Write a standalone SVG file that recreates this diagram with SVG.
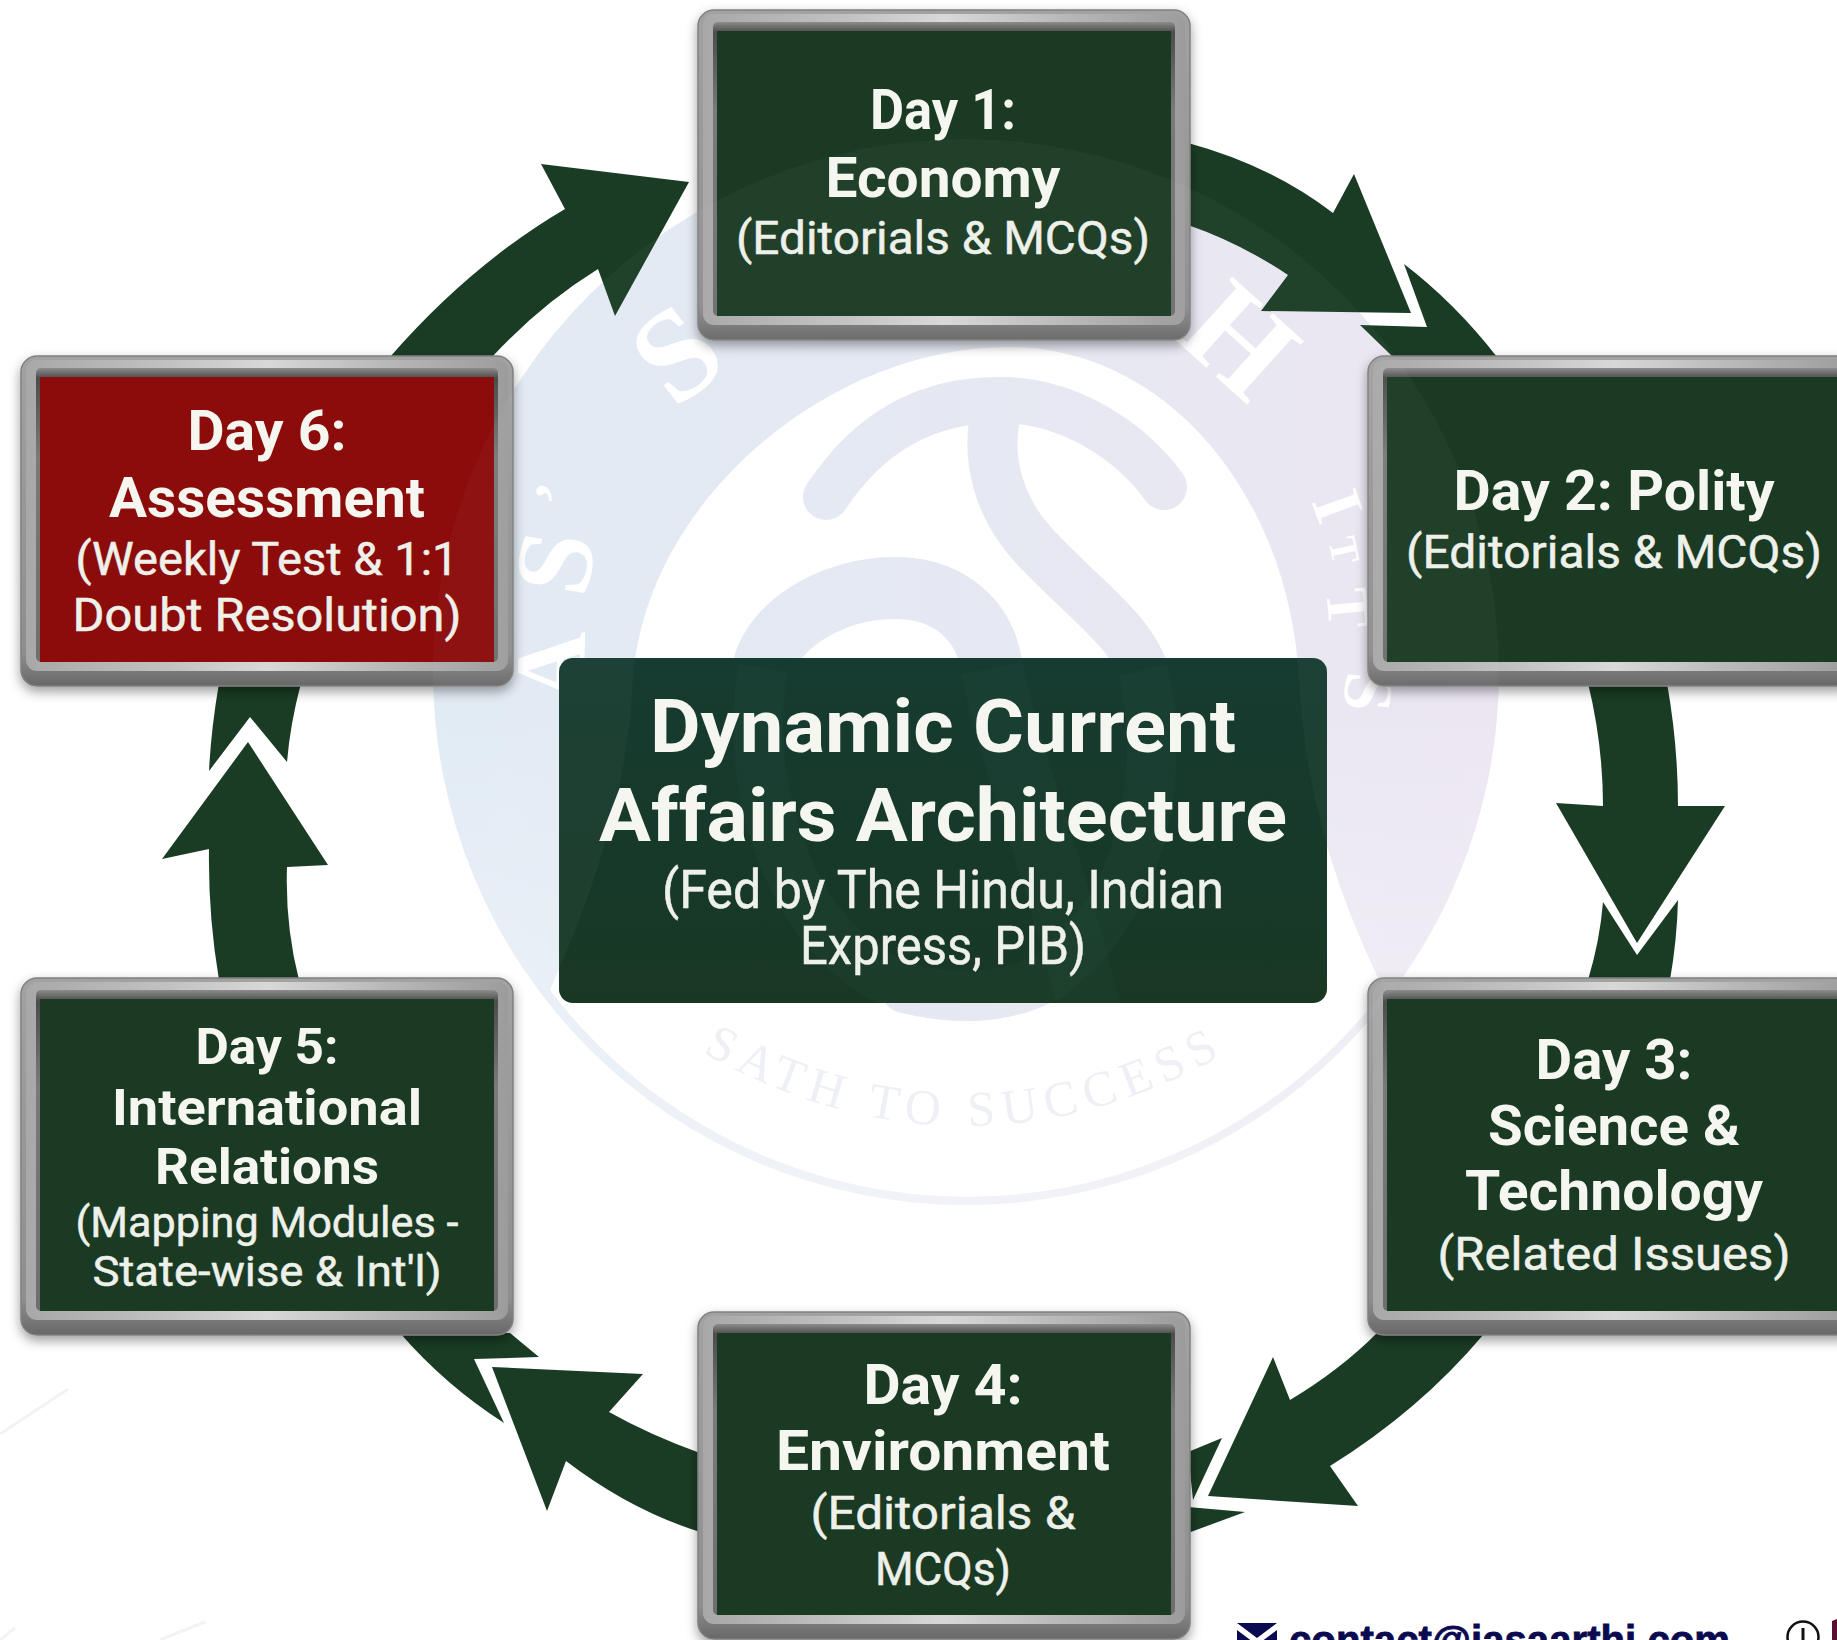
<svg xmlns="http://www.w3.org/2000/svg" width="1837" height="1640" viewBox="0 0 1837 1640">
<defs>
<linearGradient id="tint" gradientUnits="userSpaceOnUse" x1="431" y1="0" x2="1501" y2="0"><stop offset="0" stop-color="#e1ebf4"/><stop offset="0.55" stop-color="#e6e8f2"/><stop offset="1" stop-color="#ece6f2"/></linearGradient>
<linearGradient id="fade" gradientUnits="userSpaceOnUse" x1="0" y1="700" x2="0" y2="1205"><stop offset="0" stop-color="#fff" stop-opacity="0"/><stop offset="1" stop-color="#fff" stop-opacity="0.45"/></linearGradient>
<linearGradient id="body" x1="0" y1="0" x2="0" y2="1"><stop offset="0" stop-color="#a2a2a2"/><stop offset="0.9" stop-color="#8e8e8e"/><stop offset="1" stop-color="#686868"/></linearGradient>
<linearGradient id="metal" x1="0" y1="0" x2="1" y2="0"><stop offset="0" stop-color="#a8a8a8"/><stop offset="0.3" stop-color="#c2c2c2"/><stop offset="0.5" stop-color="#d8d8d8"/><stop offset="0.75" stop-color="#b8b8b8"/><stop offset="1" stop-color="#9c9c9c"/></linearGradient>
<linearGradient id="lip" x1="0" y1="0" x2="0" y2="1"><stop offset="0" stop-color="#8c8c8c"/><stop offset="0.035" stop-color="#4c4c4c"/><stop offset="0.3" stop-color="#7a7a7a"/><stop offset="1" stop-color="#6e6e6e"/></linearGradient>
<linearGradient id="hub" x1="0" y1="0" x2="0" y2="1"><stop offset="0" stop-color="#163b30"/><stop offset="0.55" stop-color="#17392a"/><stop offset="1" stop-color="#193824"/></linearGradient>
<filter id="shadow" x="-8%" y="-8%" width="116%" height="120%"><feDropShadow dx="0" dy="5" stdDeviation="6" flood-color="#000" flood-opacity="0.38"/></filter>
<clipPath id="hubclip"><rect x="559" y="658" width="768" height="345" rx="14"/></clipPath>
</defs>
<style>
.mark{fill:url(#tint)}
.stk{fill:none;stroke:url(#tint);stroke-linecap:round}
.wm{font-family:"Liberation Serif",serif;font-weight:700;fill:#fff;font-size:130px;text-anchor:middle}
.conn{fill:#1a3c24}
.body{stroke:#808080;stroke-width:1.5;fill:url(#body)}
.bright{fill:url(#metal)}
.lip{fill:url(#lip)}
.panel{fill:#1a3a23}
.red{fill:#8c0b0b}
.h{font-family:Roboto,"Liberation Sans",sans-serif;font-weight:700;font-size:55px;fill:#f6f6f1;text-anchor:middle}
.s{font-family:Roboto,"Liberation Sans",sans-serif;font-weight:400;font-size:46px;fill:#eef0ea;stroke:#eef0ea;stroke-width:0.5;text-anchor:middle}
.ct{font-size:74px}
.cs{font-size:54px}
.ghost{fill:none;stroke:#5aa8a0;opacity:0.04}
</style>
<rect width="1837" height="1640" fill="#fff"/>
<g id="watermark">
<circle class="mark" cx="966" cy="672" r="533"/>
<circle cx="966" cy="672" r="534" fill="url(#fade)"/>
<path fill="#fff" d="M1008,347 C830,347 645,500 633,680 C627,800 590,900 550,990 A524,524 0 0 0 1384,990 C1340,900 1305,800 1299,680 C1290,500 1170,347 1008,347Z"/>
<path class="stk" stroke-width="46" d="M826,497 C870,430 930,398 1005,400 C1070,402 1130,440 1164,487"/>
<path class="stk" stroke-width="50" stroke-linecap="butt" d="M996,412 C985,460 1000,510 1035,547 C1080,595 1130,630 1143,670 C1165,760 1150,900 1050,975 C1010,998 960,1002 905,988"/>
<path class="stk" stroke-width="62" stroke-linecap="butt" d="M763,668 C775,620 840,586 900,588 C950,590 985,620 992,668"/>
<g class="wm">
<text transform="translate(703,388) rotate(-38)">S</text>
<text transform="translate(1211,372) rotate(42)">H</text>
<text transform="translate(1316,514) rotate(70)" font-size="70">I</text>
<text transform="translate(1331,553) rotate(78)" font-size="40">T</text>
<text transform="translate(1328,610) rotate(85)" font-size="60">T</text>
<text transform="translate(1345,690) rotate(95)" font-size="70">S</text>
<text transform="translate(545,492) rotate(-70)" font-size="60">,</text>
<text transform="translate(591,569) rotate(-80)" font-size="110">S</text>
<text transform="translate(584,668) rotate(-88)" font-size="100">A</text>
</g>
<path id="motto" fill="none" d="M650,1020 Q965,1232 1280,1020"/>
<text font-family="Liberation Serif, serif" font-size="50" fill="#eef0f5" letter-spacing="8"><textPath href="#motto" startOffset="50%" text-anchor="middle">SATH TO SUCCESS</textPath></text>
<path d="M0,1434 L68,1389 M0,1640 L15,1628 M160,1640 L205,1622" stroke="#f2f3f3" stroke-width="3" fill="none"/>
</g>
<g id="connectors">
<path class="conn" d="M1188,143 Q1270,165 1333,213 L1354,174 L1411,313 L1261,311 L1288,275 Q1240,243 1188,225Z M1404,264 L1427,327 L1360,325 L1393,357 L1497,357 Q1455,303 1404,264Z"/>
<path class="conn" d="M1588,683 Q1603,745 1603,806 L1556,803 L1637,943 L1725,806 L1678,806 Q1678,745 1667,683Z M1603,902 L1637,955 L1678,900 Q1677,940 1670,980 L1588,980 Q1600,940 1603,902Z"/>
<path class="conn" d="M1377,1333 L1483,1335 Q1420,1410 1330,1466 L1358,1506 L1208,1496 L1273,1357 L1290,1400 Q1340,1370 1377,1333Z M1222,1438 L1193,1500 L1188,1452 Q1205,1445 1222,1438Z M1188,1507 L1245,1512 L1188,1533Z"/>
<path class="conn" d="M700,1453 Q650,1435 609,1412 L643,1374 L492,1367 L547,1511 L566,1461 Q630,1510 700,1532Z M400,1333 L510,1333 L539,1357 L474,1359 L504,1423 Q445,1385 400,1333Z"/>
<path class="conn" d="M219,980 Q208,915 209,849 L162,859 L248,742 L328,865 L287,867 Q285,925 299,980Z M219,683 Q211,730 209,771 L250,717 L287,762 Q290,725 301,683Z"/>
<path class="conn" d="M390,357 Q470,265 565,209 L541,164 L689,182 L615,316 L598,269 Q540,305 492,357Z"/>
</g>
<g id="center-node">
<rect x="559" y="658" width="768" height="345" rx="14" fill="url(#hub)"/>
<g clip-path="url(#hubclip)">
<path class="ghost" stroke-width="50" d="M1143,670 C1165,760 1150,900 1050,975 C1010,998 960,1002 905,988 C800,950 740,800 763,668"/>
<path class="ghost" stroke-width="62" d="M992,668 C1010,760 1050,850 1090,1010"/>
</g>
<text class="h ct" x="943" y="752" textLength="586" lengthAdjust="spacingAndGlyphs">Dynamic Current</text>
<text class="h ct" x="943" y="841" textLength="688" lengthAdjust="spacingAndGlyphs">Affairs Architecture</text>
<text class="s cs" x="943" y="908" textLength="562" lengthAdjust="spacingAndGlyphs">(Fed by The Hindu, Indian</text>
<text class="s cs" x="943" y="964" textLength="286" lengthAdjust="spacingAndGlyphs">Express, PIB)</text>
</g>
<g id="day1">
<rect class="body" x="698" y="10" width="492" height="330" rx="16" filter="url(#shadow)"/>
<rect class="bright" x="703" y="14" width="482" height="311" rx="11"/>
<rect class="lip" x="713" y="22" width="462" height="294" rx="5"/>
<rect class="panel" x="717" y="31" width="454" height="285"/>
<text class="h" x="943" y="129" textLength="146" lengthAdjust="spacingAndGlyphs">Day 1:</text>
<text class="h" x="943" y="197" textLength="235" lengthAdjust="spacingAndGlyphs">Economy</text>
<text class="s" x="943" y="254" textLength="414" lengthAdjust="spacingAndGlyphs">(Editorials &amp; MCQs)</text>
</g>
<g id="day2">
<rect class="body" x="1368" y="356" width="492" height="330" rx="16" filter="url(#shadow)"/>
<rect class="bright" x="1373" y="360" width="482" height="311" rx="11"/>
<rect class="lip" x="1383" y="368" width="462" height="294" rx="5"/>
<rect class="panel" x="1387" y="377" width="454" height="285"/>
<text class="h" x="1614" y="510" textLength="321" lengthAdjust="spacingAndGlyphs">Day 2: Polity</text>
<text class="s" x="1614" y="568" textLength="416" lengthAdjust="spacingAndGlyphs">(Editorials &amp; MCQs)</text>
</g>
<g id="day3">
<rect class="body" x="1368" y="978" width="492" height="357" rx="16" filter="url(#shadow)"/>
<rect class="bright" x="1373" y="982" width="482" height="338" rx="11"/>
<rect class="lip" x="1383" y="990" width="462" height="321" rx="5"/>
<rect class="panel" x="1387" y="999" width="454" height="312"/>
<text class="h" x="1614" y="1079" textLength="157" lengthAdjust="spacingAndGlyphs">Day 3:</text>
<text class="h" x="1614" y="1145" textLength="252" lengthAdjust="spacingAndGlyphs">Science &amp;</text>
<text class="h" x="1614" y="1210" textLength="298" lengthAdjust="spacingAndGlyphs">Technology</text>
<text class="s" x="1614" y="1270" textLength="353" lengthAdjust="spacingAndGlyphs">(Related Issues)</text>
</g>
<g id="day4">
<rect class="body" x="698" y="1312" width="492" height="327" rx="16" filter="url(#shadow)"/>
<rect class="bright" x="703" y="1316" width="482" height="308" rx="11"/>
<rect class="lip" x="713" y="1324" width="462" height="291" rx="5"/>
<rect class="panel" x="717" y="1333" width="454" height="282"/>
<text class="h" x="943" y="1404" textLength="159" lengthAdjust="spacingAndGlyphs">Day 4:</text>
<text class="h" x="943" y="1470" textLength="334" lengthAdjust="spacingAndGlyphs">Environment</text>
<text class="s" x="943" y="1529" textLength="265" lengthAdjust="spacingAndGlyphs">(Editorials &amp;</text>
<text class="s" x="943" y="1585" textLength="136" lengthAdjust="spacingAndGlyphs">MCQs)</text>
</g>
<g id="day5">
<rect class="body" x="21" y="978" width="492" height="357" rx="16" filter="url(#shadow)"/>
<rect class="bright" x="26" y="982" width="482" height="338" rx="11"/>
<rect class="lip" x="36" y="990" width="462" height="321" rx="5"/>
<rect class="panel" x="40" y="999" width="454" height="312"/>
<text class="h" style="font-size:50px" x="267" y="1064" textLength="143" lengthAdjust="spacingAndGlyphs">Day 5:</text>
<text class="h" style="font-size:50px" x="267" y="1125" textLength="310" lengthAdjust="spacingAndGlyphs">International</text>
<text class="h" style="font-size:50px" x="267" y="1184" textLength="224" lengthAdjust="spacingAndGlyphs">Relations</text>
<text class="s" style="font-size:43px" x="267" y="1237" textLength="383" lengthAdjust="spacingAndGlyphs">(Mapping Modules -</text>
<text class="s" style="font-size:43px" x="267" y="1286" textLength="349" lengthAdjust="spacingAndGlyphs">State-wise &amp; Int'l)</text>
</g>
<g id="day6">
<rect class="body" x="21" y="356" width="492" height="330" rx="16" filter="url(#shadow)"/>
<rect class="bright" x="26" y="360" width="482" height="311" rx="11"/>
<rect class="lip" x="36" y="368" width="462" height="294" rx="5"/>
<rect class="red" x="40" y="377" width="454" height="285"/>
<text class="h" x="267" y="450" textLength="159" lengthAdjust="spacingAndGlyphs">Day 6:</text>
<text class="h" x="267" y="517" textLength="316" lengthAdjust="spacingAndGlyphs">Assessment</text>
<text class="s" x="267" y="575" textLength="383" lengthAdjust="spacingAndGlyphs">(Weekly Test &amp; 1:1</text>
<text class="s" x="267" y="631" textLength="389" lengthAdjust="spacingAndGlyphs">Doubt Resolution)</text>
</g>
<path id="sheen" fill="#fff" opacity="0.03" fill-rule="evenodd" d="M433,672 A533,533 0 1 1 1499,672 A533,533 0 1 1 433,672Z M1008,347 C830,347 645,500 633,680 C627,800 590,900 550,990 A524,524 0 0 0 1384,990 C1340,900 1305,800 1299,680 C1290,500 1170,347 1008,347Z"/>
<g id="footer">
<path d="M1237,1623 H1277 L1257,1638Z M1237,1630 L1257,1645 L1277,1630 V1640 H1237Z" fill="#0a0a50"/>
<text x="1289" y="1654" font-family="Liberation Sans, sans-serif" font-weight="700" font-size="40" fill="#0a0a50" stroke="#0a0a50" stroke-width="0.8" textLength="441" lengthAdjust="spacingAndGlyphs">contact@iasaarthi.com</text>
<circle cx="1803" cy="1637" r="15.5" fill="none" stroke="#111" stroke-width="2.5"/>
<path d="M1803,1628 V1640" stroke="#111" stroke-width="3"/>
<path d="M1832,1640 V1621 L1837,1619 V1640Z" fill="#5a1030"/>
</g>
</svg>
